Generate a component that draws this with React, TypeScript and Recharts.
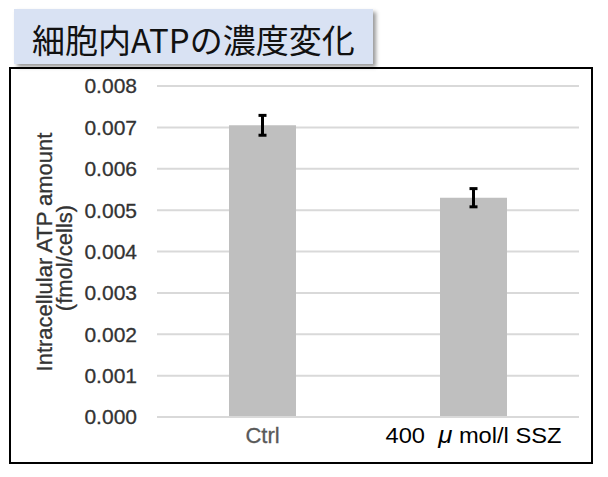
import React from 'react';
import { BarChart, Bar, XAxis, YAxis, CartesianGrid, ErrorBar, Label } from 'recharts';

const categories = ['Ctrl', '400\u00a0\u00a0μ mol/l SSZ'];
const atpValues = [0.00705, 0.0053];
const atpErrors = [0.00024, 0.00022];
const yTicks = [0, 0.001, 0.002, 0.003, 0.004, 0.005, 0.006, 0.007, 0.008];
const titleText = '細胞内ATPの濃度変化';
const yTitleLines = ['Intracellular ATP amount', '(fmol/cells)'];

const data = categories.map((c, i) => ({ name: c, value: atpValues[i], err: atpErrors[i] }));

const FONT = '"Liberation Sans", Arial, sans-serif';

const XTick = (props: any) => {
  const { x, y, payload } = props;
  const label: string = payload.value;
  const isFirst = label === categories[0];
  const mu = label.indexOf('μ');
  return (
    <text
      x={x}
      y={y}
      dy={18}
      textAnchor="middle"
      fontFamily={FONT}
      fontSize={22}
      fill={isFirst ? '#595959' : '#000000'}
      {...(isFirst
        ? { stroke: '#595959', strokeWidth: 0.3 }
        : { textLength: 176, lengthAdjust: 'spacingAndGlyphs' })}
    >
      {mu < 0 ? (
        label
      ) : (
        <>
          <tspan>{label.slice(0, mu)}</tspan>
          <tspan fontStyle="italic" fontSize={24}>μ</tspan>
          <tspan>{label.slice(mu + 1)}</tspan>
        </>
      )}
    </text>
  );
};

const YTitle = () => (
  <g>
    <text
      x={52}
      y={252}
      transform="rotate(-90 52 252)"
      textAnchor="middle"
      fontFamily={FONT}
      fontSize={22}
      fill="#333"
      stroke="#333"
      strokeWidth={0.3}
    >
      {yTitleLines[0]}
    </text>
    <text
      x={72}
      y={258}
      transform="rotate(-90 72 258)"
      textAnchor="middle"
      fontFamily={FONT}
      fontSize={22}
      fill="#333"
      stroke="#333"
      strokeWidth={0.3}
    >
      {yTitleLines[1]}
    </text>
  </g>
);

export default function App() {
  return (
    <div style={{ position: 'absolute', left: 0, top: 0, width: 608, height: 477, background: '#fff' }}>
      <div
        style={{
          position: 'absolute',
          left: 9,
          top: 67,
          width: 580,
          height: 393,
          border: '2px solid #000',
        }}
      />
      <div style={{ position: 'absolute', left: 0, top: 0 }}>
        <BarChart
          width={608}
          height={477}
          data={data}
          margin={{ top: 86, right: 29, bottom: 30, left: 9 }}
        >
          <CartesianGrid vertical={false} stroke="#d9d9d9" strokeWidth={2} />
          <XAxis
            dataKey="name"
            tickLine={false}
            axisLine={{ stroke: '#d9d9d9', strokeWidth: 2 }}
            tick={<XTick />}
            interval={0}
          />
          <YAxis
            width={148}
            domain={[0, 0.008]}
            ticks={yTicks}
            tickFormatter={(v: number) => v.toFixed(3)}
            axisLine={false}
            tickLine={false}
            tickMargin={14}
            tick={{ fontSize: 21, fill: '#333', stroke: '#333', strokeWidth: 0.3, fontFamily: FONT }}
          >
            <Label content={() => <YTitle />} />
          </YAxis>
          <Bar dataKey="value" fill="#bfbfbf" barSize={67} isAnimationActive={false}>
            <ErrorBar dataKey="err" width={4} stroke="#000" strokeWidth={3} isAnimationActive={false} />
          </Bar>
        </BarChart>
      </div>
      <div
        style={{
          position: 'absolute',
          left: 14,
          top: 9,
          width: 359,
          height: 55,
          background: '#d9e2f3',
          boxShadow: '3px 3px 4px rgba(0,0,0,0.4)',
          fontFamily: '"Noto Sans CJK JP", sans-serif',
          fontSize: 33,
          lineHeight: '55px',
          paddingLeft: 18,
          boxSizing: 'border-box',
          color: '#111',
          whiteSpace: 'nowrap',
          paddingTop: 3,
        }}
      >
        {titleText}
      </div>
    </div>
  );
}
